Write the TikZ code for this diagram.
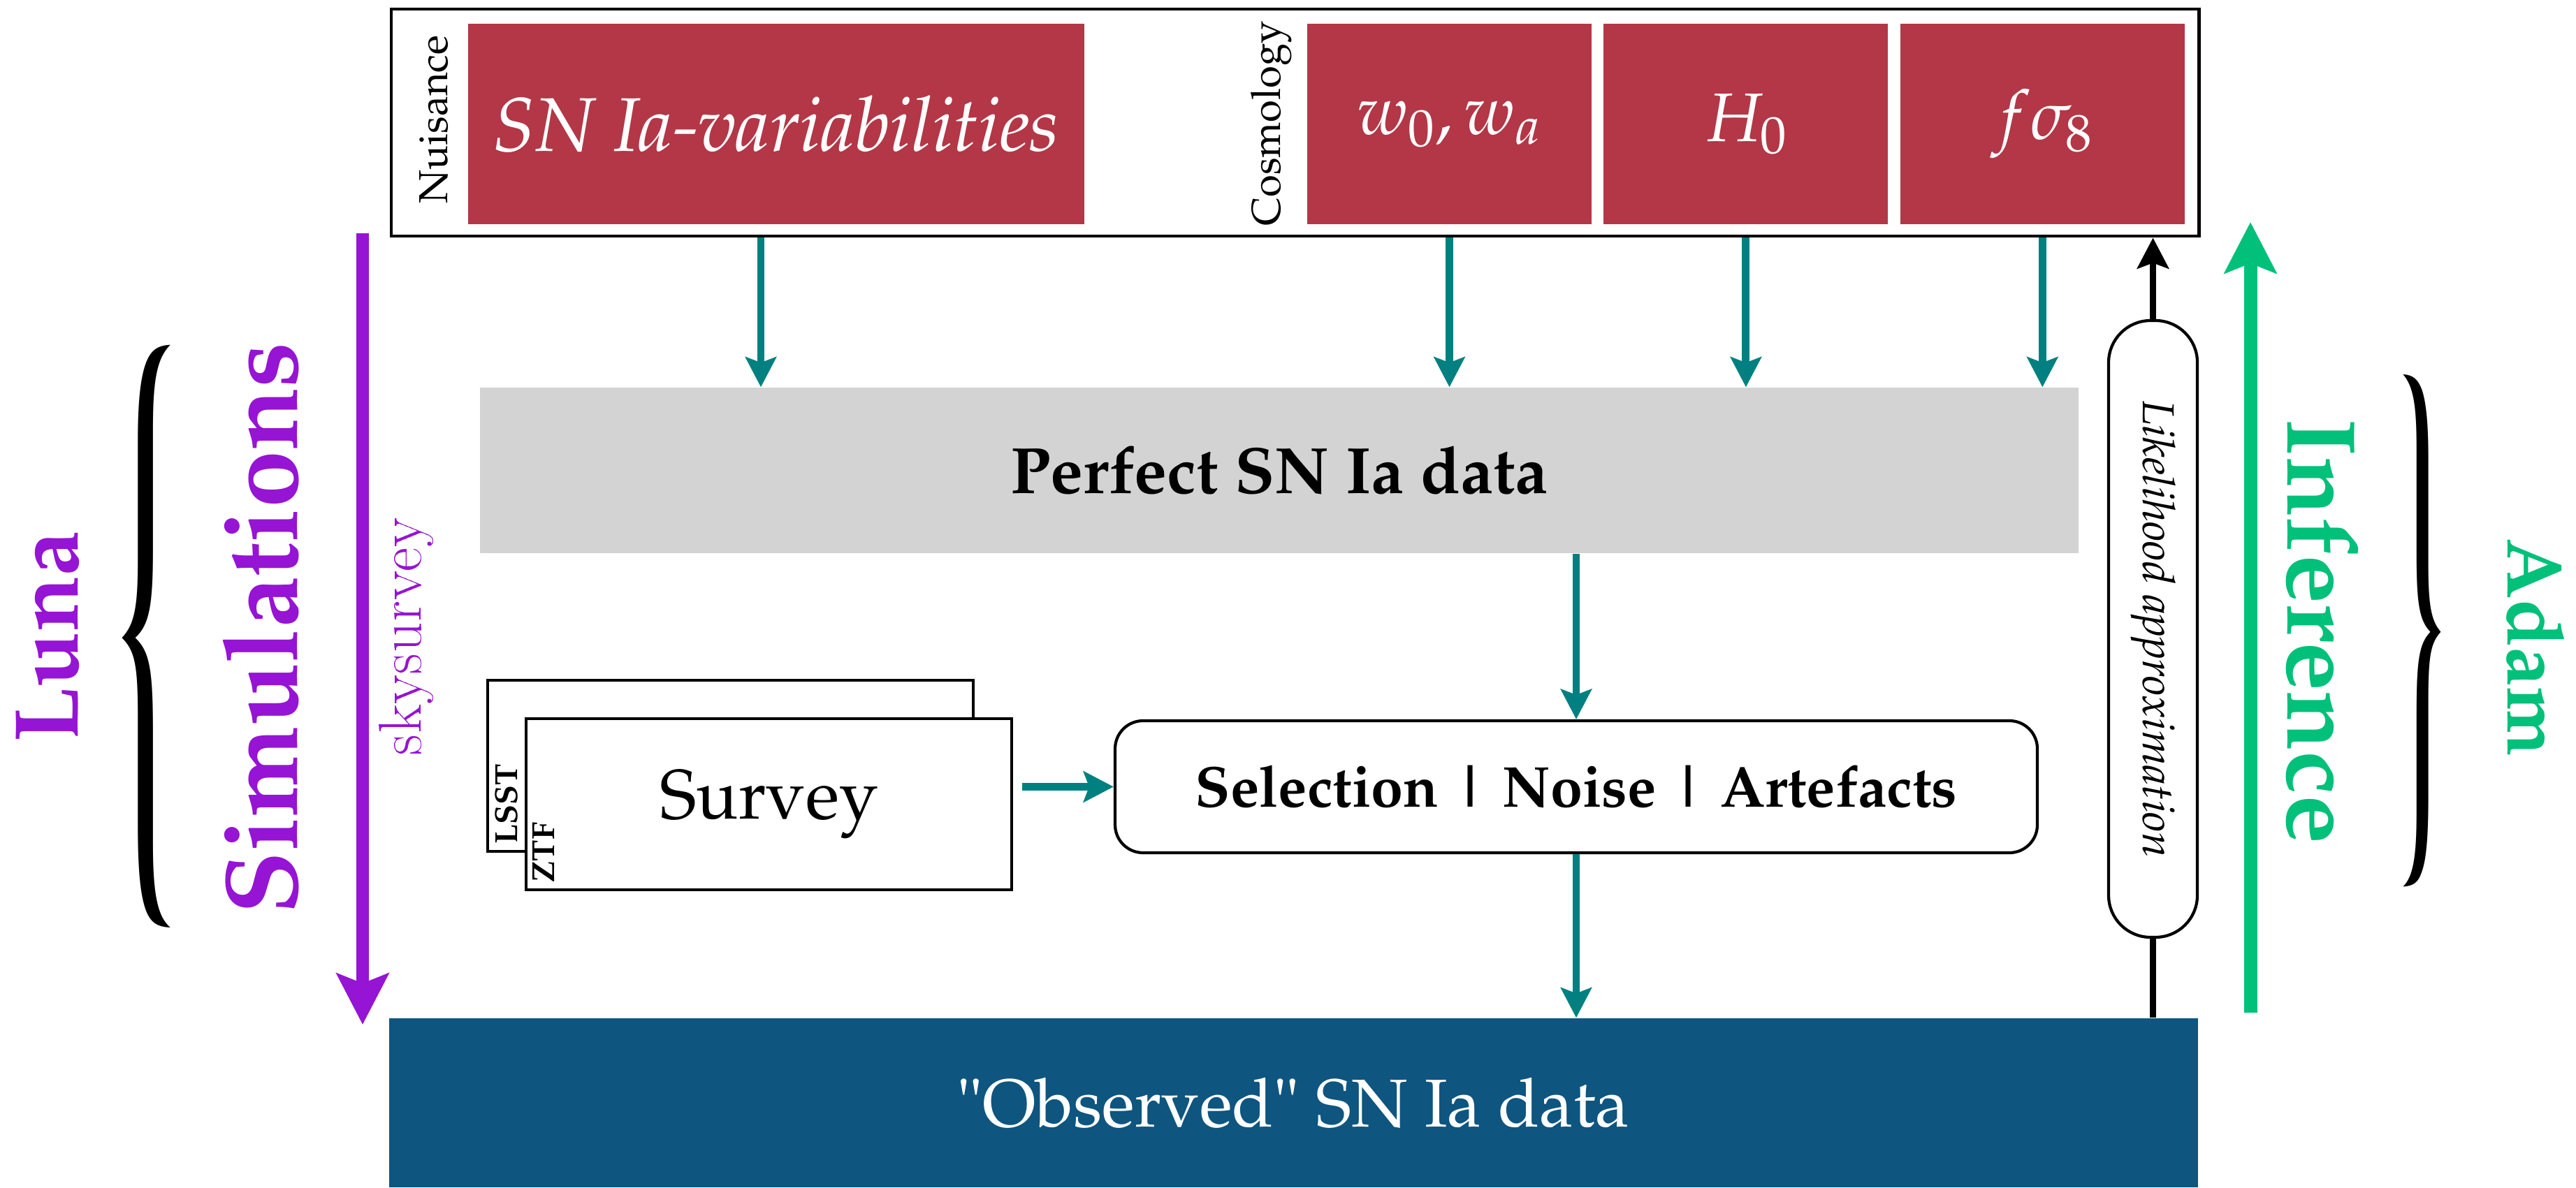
\documentclass[tikz,border=0pt]{standalone}
\usepackage[T1]{fontenc}
\usepackage{mathpazo}
\usepackage{graphicx}
\renewcommand{\ttdefault}{lmtt}
\usetikzlibrary{positioning}
\usetikzlibrary{arrows.meta}

\definecolor{parred}{RGB}{179,55,70}
\definecolor{obsblue}{RGB}{14,85,128}
\definecolor{perfgray}{RGB}{211,211,211}
\definecolor{flowteal}{RGB}{0,128,128}
\definecolor{simviolet}{RGB}{150,20,211}
\definecolor{infgreen}{RGB}{0,192,122}

\tikzset{
	parbox/.style={fill=parred, text=white, minimum height=2.87cm, inner sep=0pt,
		font=\fontsize{28}{34}\selectfont\itshape},
	sidelabel/.style={rotate=90, font=\fontsize{16.5}{20}\selectfont},
	surveybox/.style={draw, fill=white, line width=1.2pt, minimum width=6.95cm,
		minimum height=2.45cm, inner sep=0pt},
	tag/.style={rotate=90, anchor=north west, font=\fontsize{13}{15}\selectfont\bfseries},
	flow/.style={draw=flowteal, line width=3.1pt,
		-{Stealth[length=4.3mm,width=4.4mm,inset=0.8mm]}},
	blackflow/.style={line width=2.8pt, -{Stealth[length=4.4mm,width=4.5mm,inset=0.8mm]}},
	bigflow/.style={line width=5.4pt, -{Stealth[length=7.3mm,width=7.4mm,inset=1.4mm]}},
	bracket/.style={inner sep=0pt},
}

\begin{document}
\begin{tikzpicture}
	\useasboundingbox (0,0) rectangle (36.87,17);

	% parameters
	\node [draw, line width=1.4pt, fill=white, minimum width=25.87cm, minimum height=3.25cm,
		inner sep=0pt] (tb) at (18.535,15.245) {};
	\node [parbox, minimum width=8.82cm, font=\fontsize{31}{36}\selectfont\itshape] (var) at (11.11,15.225) {SN Ia-variabilities};
	\node [parbox, minimum width=4.07cm] (wzero) at (20.745,15.225) {$w_0, w_a$};
	\node [parbox, minimum width=4.07cm, right=1.6mm of wzero] (hzero) {$H_0$};
	\node [parbox, minimum width=4.07cm, right=1.6mm of hzero] (fsig) {$f\sigma_8$};
	\node [sidelabel] (nuis) at (6.21,15.29) {Nuisance};
	\node [sidelabel] (cosmo) at (18.20,15.23) {Cosmology};

	\node [fill=perfgray, minimum width=22.88cm, minimum height=2.37cm, inner sep=0pt,
		font=\fontsize{26.7}{32}\selectfont\bfseries] (perfect) at (18.31,10.265) {Perfect SN Ia data};

	\draw [flow] ([xshift=-2.2mm]var.south |- tb.south) -- ([xshift=-2.2mm]var.south |- perfect.north);
	\draw [flow] (wzero.south |- tb.south) -- (wzero.south |- perfect.north);
	\draw [flow] (hzero.south |- tb.south) -- (hzero.south |- perfect.north);
	\draw [flow] (fsig.south |- tb.south) -- (fsig.south |- perfect.north);

	\node [draw, rounded corners=0.4cm, line width=1.2pt, minimum width=13.2cm, minimum height=1.89cm,
		font=\fontsize{23.5}{28}\selectfont\bfseries] (sel) at (22.56,5.735) {Selection | Noise | Artefacts};

	\node [fill=obsblue, text=white, minimum width=25.89cm, minimum height=2.42cm, inner sep=0pt,
		font=\fontsize{27.6}{32}\selectfont] (obs) at (18.515,1.21) {"Observed" SN Ia data};

	\draw [flow] (sel.north |- perfect.south) -- (sel.north);
	\draw [flow] (sel.south) -- (sel.south |- obs.north);

	% surveys
	\node [surveybox] (lsst) at (10.455,6.035) {};
	\node [tag] (lsstname) at (lsst.south west) {LSST};
	\node [surveybox, font=\fontsize{28.5}{34}\selectfont] (ztf) at (11.005,5.485) {Survey};
	\node [tag] (ztfname) at (ztf.south west) {ZTF};
	\draw [flow, shorten <=1.3mm] (ztf.east |- sel.west) -- (sel.west);

	% likelihood
	\node [draw, fill=white, rotate=-90, rounded corners=0.6cm, line width=1.2pt, minimum width=8.83cm,
		minimum height=1.27cm, inner sep=0pt, font=\fontsize{18.2}{22}\selectfont\itshape]
		(lik) at (30.815,7.995) {Likelihood approximation};
	\draw [line width=2.8pt] (lik.east |- obs.north) -- (lik.east);
	\draw [blackflow] (lik.west) -- (lik.west |- tb.south);

	% sides
	\coordinate (simtop) at (5.19,13.66);
	\coordinate (simbot) at (5.19,2.33);
	\coordinate (infbot) at (32.21,2.50);
	\coordinate (inftop) at (32.21,13.82);
	\draw [bigflow, simviolet] (simtop) -- (simbot);
	\draw [bigflow, infgreen] (infbot) -- (inftop);

	\node [rotate=90, text=simviolet, font=\fontsize{37}{44}\selectfont\bfseries] (luna) at (0.69,7.88) {Luna};
	\node [rotate=90, text=simviolet, font=\fontsize{42}{50}\selectfont\bfseries] (sim) at (3.73,8.00) {Simulations};
	\node [rotate=90, text=simviolet, font=\fontsize{26}{30}\selectfont\ttfamily] (sky) at (5.81,7.88) {skysurvey};
	\node [rotate=-90, text=infgreen, font=\fontsize{40}{48}\selectfont\bfseries] (inf) at (33.24,7.96) {Inference};
	\node [rotate=-90, text=infgreen, font=\fontsize{32}{38}\selectfont\bfseries] (adam) at (36.29,7.73) {Adam};

	\node [bracket] (lbrace) at (2.08,7.93) {\resizebox{1.0cm}{6.7cm}{\{}};
	\node [bracket] (rbrace) at (34.68,8.00) {\resizebox{0.78cm}{5.89cm}{\}}};
\end{tikzpicture}
\end{document}
